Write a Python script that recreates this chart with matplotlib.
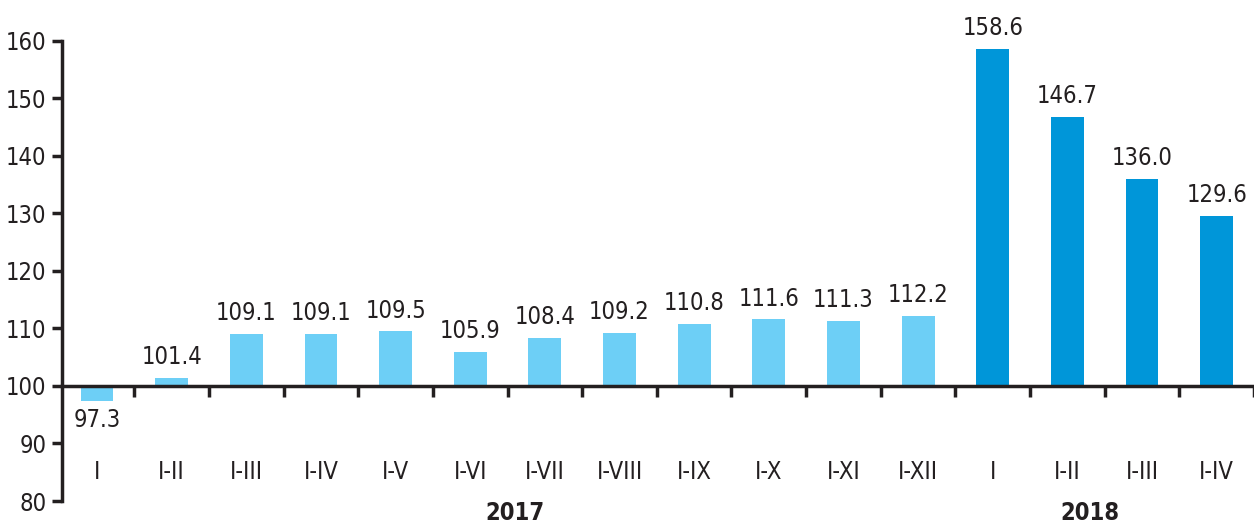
import matplotlib.pyplot as plt
from matplotlib.transforms import blended_transform_factory

periods = ["I", "I-II", "I-III", "I-IV", "I-V", "I-VI", "I-VII", "I-VIII", "I-IX",
           "I-X", "I-XI", "I-XII", "I", "I-II", "I-III", "I-IV"]
values = [97.3, 101.4, 109.1, 109.1, 109.5, 105.9, 108.4, 109.2, 110.8,
          111.6, 111.3, 112.2, 158.6, 146.7, 136.0, 129.6]
years = ["2017", "2018"]
year_pos = [5.6, 13.3]

light = "#6dcff6"
dark = "#0096d9"
colors = [light] * 12 + [dark] * 4

plt.rcParams['font.family'] = ['DejaVu Sans']
plt.rcParams['font.stretch'] = 'condensed'
fig = plt.figure(figsize=(12.54, 5.25), dpi=100)
ax = fig.add_axes([0.0494, 0.0457, 0.9506, 0.877])

x = list(range(len(values)))
heights = [v - 100 for v in values]
ax.bar(x, heights, bottom=100, width=0.44, color=colors, zorder=2)

for xi, v in zip(x, values):
    if v < 100:
        ax.text(xi, v - 1.2, f"{v:.1f}", ha='center', va='top', fontsize=17, color='#231f20')
    else:
        ax.text(xi, v + 1.5, f"{v:.1f}", ha='center', va='bottom', fontsize=17, color='#231f20')

ax.set_xlim(-0.47, len(values) - 0.5)
ax.set_ylim(80, 160)
ax.set_yticks(range(80, 161, 10))
ax.tick_params(axis='y', labelsize=17, length=7, width=2.5, colors='#231f20', pad=4)

ax.spines['top'].set_visible(False)
ax.spines['right'].set_visible(False)
ax.spines['left'].set_linewidth(2.5)
ax.spines['left'].set_color('#231f20')
ax.spines['bottom'].set_position(('data', 100))
ax.spines['bottom'].set_linewidth(2.5)
ax.spines['bottom'].set_color('#231f20')
ax.spines['bottom'].set_zorder(3)

ax.set_xticks([i + 0.5 for i in range(len(values))])
ax.set_xticklabels([])
ax.tick_params(axis='x', direction='out', length=8, width=2.5, colors='#231f20')

trans = blended_transform_factory(ax.transData, ax.transAxes)
for xi, lab in zip(x, periods):
    ax.text(xi, 0.063, lab, transform=trans, ha='center', va='center', fontsize=17, color='#231f20')
for xp, yr in zip(year_pos, years):
    ax.text(xp, -0.025, yr, transform=trans, ha='center', va='center', fontsize=17,
            fontweight='bold', color='#231f20')

fig.savefig('out.png', dpi=100)
